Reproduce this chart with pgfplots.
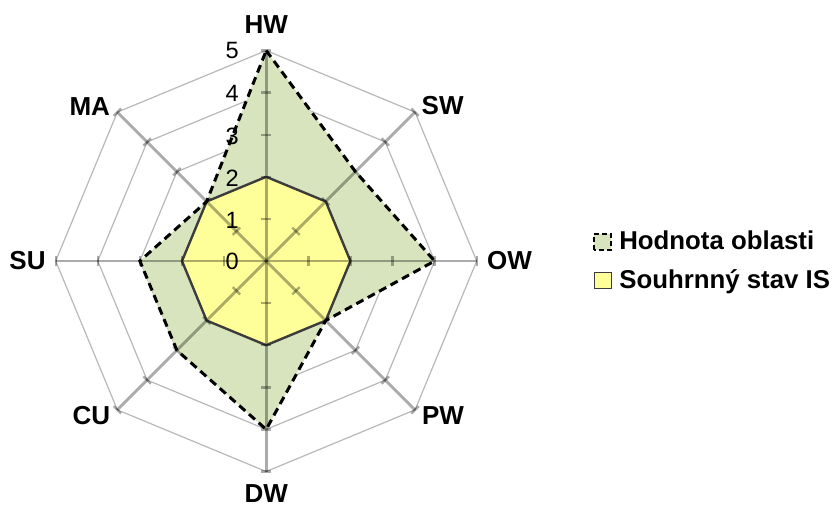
\documentclass[border=0pt]{standalone}
\usepackage{fontspec}
\setmainfont{Liberation Sans}
\usepackage{pgfplots}
\pgfplotsset{compat=1.18}
\definecolor{greenfill}{HTML}{D7E4BD}
\definecolor{yellowfill}{HTML}{FFFF99}
\definecolor{yborder}{HTML}{3C3C3C}
\definecolor{gridc}{HTML}{B8B8B8}
\begin{document}
\begin{tikzpicture}
\useasboundingbox (0,0) rectangle (417pt,253pt);
\begin{axis}[
  x=21.05pt, y=21.05pt,
  xmin=-6.323, xmax=13.487, ymin=-5.819, ymax=6.200,
  hide axis, clip=false,
  data cs=polar,
  legend style={at={(axis cs:7.76,0.0)}, anchor=west, draw=none, fill=none,
    inner sep=0pt, font=\fontsize{12.9}{15}\selectfont\bfseries,
    row sep=8.5pt, nodes={inner sep=0pt}},
  legend cell align=left,
  gridline/.style={draw=gridc, line width=0.6pt, forget plot},
  spoke/.style={draw=black, draw opacity=0.33, line width=1.4pt, forget plot,
    mark=|, mark phase=2, mark size=2.6pt, mark options={solid, draw=black, draw opacity=0.33, line width=1.2pt, rotate=#1}},
]
% grid octagons
\addplot[gridline] coordinates {(90,1)(45,1)(0,1)(-45,1)(-90,1)(-135,1)(180,1)(135,1)(90,1)};
\addplot[gridline] coordinates {(90,2)(45,2)(0,2)(-45,2)(-90,2)(-135,2)(180,2)(135,2)(90,2)};
\addplot[gridline] coordinates {(90,3)(45,3)(0,3)(-45,3)(-90,3)(-135,3)(180,3)(135,3)(90,3)};
\addplot[gridline] coordinates {(90,4)(45,4)(0,4)(-45,4)(-90,4)(-135,4)(180,4)(135,4)(90,4)};
\addplot[gridline] coordinates {(90,5)(45,5)(0,5)(-45,5)(-90,5)(-135,5)(180,5)(135,5)(90,5)};
% fills
\addplot[fill=greenfill, draw=none, forget plot] coordinates {(90,5)(45,3)(0,4)(-45,2)(-90,4)(-135,3)(180,3)(135,2)(90,5)};
\addplot[fill=yellowfill, draw=none, forget plot] coordinates {(90,2)(45,2)(0,2)(-45,2)(-90,2)(-135,2)(180,2)(135,2)(90,2)};
% spokes with ticks
\addplot[spoke=90] coordinates {(90,0)(90,1)(90,2)(90,3)(90,4)(90,5)};
\addplot[spoke=45] coordinates {(45,0)(45,1)(45,2)(45,3)(45,4)(45,5)};
\addplot[spoke=0] coordinates {(0,0)(0,1)(0,2)(0,3)(0,4)(0,5)};
\addplot[spoke=-45] coordinates {(-45,0)(-45,1)(-45,2)(-45,3)(-45,4)(-45,5)};
\addplot[spoke=-90] coordinates {(-90,0)(-90,1)(-90,2)(-90,3)(-90,4)(-90,5)};
\addplot[spoke=-135] coordinates {(-135,0)(-135,1)(-135,2)(-135,3)(-135,4)(-135,5)};
\addplot[spoke=180] coordinates {(180,0)(180,1)(180,2)(180,3)(180,4)(180,5)};
\addplot[spoke=135] coordinates {(135,0)(135,1)(135,2)(135,3)(135,4)(135,5)};
% borders
\addplot[draw=yborder, line width=1.2pt, line join=miter, forget plot] coordinates {(90,2)(45,2)(0,2)(-45,2)(-90,2)(-135,2)(180,2)(135,2)(90,2)};
\addplot[draw=black, line width=1.5pt, dash pattern=on 4pt off 2.5pt, line join=miter, forget plot] coordinates {(90,5)(45,3)(0,4)(-45,2)(-90,4)(-135,3)(180,3)(135,2)(90,5)};
% legend
\addlegendimage{legend image code/.code={\draw[fill=greenfill, draw=black, line width=1pt, dash pattern=on 2.5pt off 1.5pt] (0pt,-4pt) rectangle (8.5pt,4pt); \path[draw=none, fill=none] (0pt,0pt) -- (12.5pt,0pt);}}
\addlegendentry{Hodnota oblasti}
\addlegendimage{legend image code/.code={\draw[fill=yellowfill, draw=yborder, line width=0.8pt] (0pt,-4pt) rectangle (8.5pt,4pt); \path[draw=none, fill=none] (0pt,0pt) -- (12.5pt,0pt);}}
\addlegendentry{Souhrnný stav IS}
% category labels
\node[font=\fontsize{13}{15}\selectfont\bfseries, inner sep=0pt] at (axis cs:0,5.61) {HW};
\node[font=\fontsize{13}{15}\selectfont\bfseries, inner sep=0pt] at (axis cs:4.19,3.69) {SW};
\node[font=\fontsize{13}{15}\selectfont\bfseries, inner sep=0pt] at (axis cs:5.78,0) {OW};
\node[font=\fontsize{13}{15}\selectfont\bfseries, inner sep=0pt] at (axis cs:4.2,-3.66) {PW};
\node[font=\fontsize{13}{15}\selectfont\bfseries, inner sep=0pt] at (axis cs:0,-5.52) {DW};
\node[font=\fontsize{13}{15}\selectfont\bfseries, inner sep=0pt] at (axis cs:-4.15,-3.66) {CU};
\node[font=\fontsize{13}{15}\selectfont\bfseries, inner sep=0pt] at (axis cs:-5.67,0) {SU};
\node[font=\fontsize{13}{15}\selectfont\bfseries, inner sep=0pt] at (axis cs:-4.19,3.68) {MA};
% value labels
\node[font=\fontsize{11.8}{13}\selectfont, anchor=east, inner sep=0pt] at (axis cs:-0.64,0) {0};
\node[font=\fontsize{11.8}{13}\selectfont, anchor=east, inner sep=0pt] at (axis cs:-0.64,0.97) {1};
\node[font=\fontsize{11.8}{13}\selectfont, anchor=east, inner sep=0pt] at (axis cs:-0.64,1.97) {2};
\node[font=\fontsize{11.8}{13}\selectfont, anchor=east, inner sep=0pt] at (axis cs:-0.64,2.97) {3};
\node[font=\fontsize{11.8}{13}\selectfont, anchor=east, inner sep=0pt] at (axis cs:-0.64,3.98) {4};
\node[font=\fontsize{11.8}{13}\selectfont, anchor=east, inner sep=0pt] at (axis cs:-0.64,5.0) {5};
\end{axis}
\end{tikzpicture}
\end{document}
